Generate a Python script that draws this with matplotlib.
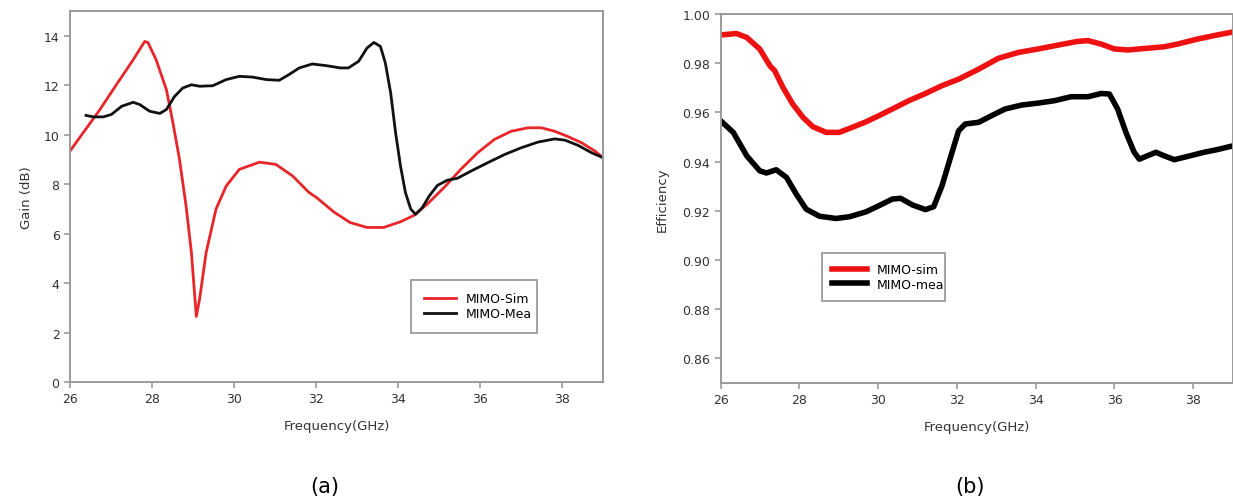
import matplotlib.pyplot as plt
from matplotlib.ticker import FormatStrFormatter

# (a) Gain vs frequency
gain_sim_f = [26.0, 26.32, 26.73, 27.13, 27.54, 27.82, 27.9, 28.1, 28.35, 28.51, 28.67,
              28.83, 28.96, 29.08, 29.16, 29.32, 29.56, 29.81, 30.13, 30.62, 31.02,
              31.43, 31.83, 32.02, 32.43, 32.83, 33.24, 33.65, 34.06, 34.39, 34.71,
              35.12, 35.53, 35.94, 36.35, 36.76, 37.17, 37.49, 37.82, 38.15, 38.48,
              38.8, 39.0]
gain_sim = [9.34, 10.08, 11.02, 12.02, 13.03, 13.77, 13.73, 13.03, 11.82, 10.48, 9.0,
            7.12, 5.24, 2.65, 3.36, 5.24, 6.99, 7.93, 8.6, 8.89, 8.8,
            8.33, 7.66, 7.45, 6.88, 6.45, 6.25, 6.25, 6.48, 6.74, 7.19,
            7.86, 8.6, 9.27, 9.81, 10.14, 10.28, 10.28, 10.14, 9.92, 9.67,
            9.34, 9.07]

gain_mea_f = [26.39, 26.57, 26.81, 27.01, 27.26, 27.54, 27.7, 27.94, 28.19, 28.35,
              28.55, 28.75, 28.96, 29.16, 29.48, 29.81, 30.13, 30.45, 30.78, 31.1,
              31.34, 31.59, 31.91, 32.26, 32.59, 32.79, 33.04, 33.24, 33.41, 33.57,
              33.69, 33.82, 33.94, 34.06, 34.18, 34.31, 34.43, 34.59, 34.76, 34.96,
              35.2, 35.45, 35.78, 36.19, 36.6, 37.0, 37.41, 37.82, 38.07, 38.39,
              38.72, 39.0]
gain_mea = [10.78, 10.72, 10.72, 10.82, 11.15, 11.31, 11.22, 10.95, 10.86, 11.02,
            11.55, 11.89, 12.02, 11.96, 11.98, 12.23, 12.36, 12.33, 12.23, 12.2,
            12.43, 12.7, 12.86, 12.79, 12.7, 12.7, 12.97, 13.5, 13.73, 13.57,
            12.9, 11.69, 10.08, 8.73, 7.66, 6.99, 6.78, 7.05, 7.52, 7.95,
            8.16, 8.24, 8.53, 8.87, 9.2, 9.47, 9.7, 9.83, 9.78, 9.57,
            9.27, 9.07]

# (b) Efficiency vs frequency
eff_sim_f = [26.0, 26.4, 26.66, 26.99, 27.25, 27.37, 27.58, 27.83, 28.09, 28.34,
             28.68, 29.01, 29.35, 29.69, 30.02, 30.36, 30.78, 31.2, 31.62, 32.04,
             32.55, 33.05, 33.56, 34.06, 34.57, 35.07, 35.33, 35.66, 36.0, 36.34,
             36.76, 37.26, 37.6, 38.1, 38.61, 39.0]
eff_sim = [0.9915, 0.9921, 0.9905, 0.9858, 0.979, 0.977, 0.9702, 0.9634, 0.958, 0.9542,
           0.9519, 0.9519, 0.954, 0.9562, 0.9587, 0.9614, 0.9648, 0.9677, 0.9709, 0.9735,
           0.9776, 0.982, 0.9844, 0.9858, 0.9874, 0.9889, 0.9892, 0.9878, 0.9858, 0.9854,
           0.986, 0.9867, 0.9878, 0.9898, 0.9915, 0.9927]

eff_mea_f = [26.0, 26.32, 26.66, 26.99, 27.16, 27.41, 27.67, 27.92, 28.17, 28.51,
             28.93, 29.27, 29.69, 30.02, 30.36, 30.57, 30.87, 31.2, 31.41, 31.62,
             31.85, 32.04, 32.21, 32.55, 32.88, 33.22, 33.64, 34.06, 34.48, 34.9,
             35.33, 35.66, 35.87, 36.08, 36.29, 36.5, 36.63, 36.84, 37.05, 37.26,
             37.52, 37.85, 38.27, 38.61, 39.0]
eff_mea = [0.9566, 0.9519, 0.9424, 0.9363, 0.9354, 0.9367, 0.9336, 0.9268, 0.9207, 0.9178,
           0.9169, 0.9176, 0.9196, 0.9221, 0.9248, 0.9251, 0.9224, 0.9205, 0.9217, 0.9302,
           0.9425, 0.9525, 0.9553, 0.956, 0.9587, 0.9614, 0.963, 0.9638, 0.9648, 0.9664,
           0.9664, 0.9677, 0.9675, 0.9614, 0.9519, 0.9438, 0.941, 0.9424, 0.9438, 0.9424,
           0.9408, 0.9421, 0.9438, 0.9449, 0.9464]

spine_col = '#9a9a9a'
text_col = '#333333'

fig = plt.figure(figsize=(12.33, 5.02), dpi=100)
ax1 = fig.add_axes([0.0568, 0.237, 0.4323, 0.739])
ax2 = fig.add_axes([0.5845, 0.235, 0.4152, 0.735])


def style_axes(ax):
    for side in ['top', 'right', 'bottom', 'left']:
        ax.spines[side].set_color(spine_col)
        ax.spines[side].set_linewidth(1.4)
    ax.tick_params(direction='out', length=4, width=1.2, color=spine_col,
                   labelsize=9, labelcolor=text_col)


ax1.plot(gain_sim_f, gain_sim, color='#e8262a', lw=2.0, label='MIMO-Sim')
ax1.plot(gain_mea_f, gain_mea, color='#111111', lw=2.0, label='MIMO-Mea')
ax1.set_xlim(26, 39)
ax1.set_ylim(0, 15)
ax1.set_xticks(range(26, 40, 2))
ax1.set_yticks(range(0, 15, 2))
ax1.set_xlabel('Frequency(GHz)', fontsize=9.5, color=text_col, labelpad=10)
ax1.set_ylabel('Gain (dB)', fontsize=9.5, color=text_col, labelpad=8)
style_axes(ax1)
leg1 = ax1.legend(loc='lower left', bbox_to_anchor=(0.628, 0.116, 0.259, 0.162),
                  mode='expand', fontsize=9, frameon=True, fancybox=False,
                  handlelength=2.6, borderpad=1.0, labelspacing=0.15)
leg1.get_frame().set_edgecolor('#777777')
leg1.get_frame().set_linewidth(1.2)

ax2.plot(eff_sim_f, eff_sim, color='#ee1111', lw=4.0, label='MIMO-sim')
ax2.plot(eff_mea_f, eff_mea, color='#000000', lw=4.0, label='MIMO-mea')
ax2.set_xlim(26, 39)
ax2.set_ylim(0.85, 1.0)
ax2.set_xticks(range(26, 40, 2))
ax2.set_yticks([0.86, 0.88, 0.90, 0.92, 0.94, 0.96, 0.98, 1.00])
ax2.yaxis.set_major_formatter(FormatStrFormatter('%.2f'))
ax2.set_xlabel('Frequency(GHz)', fontsize=9.5, color=text_col, labelpad=10)
ax2.set_ylabel('Efficiency', fontsize=9.5, color=text_col, labelpad=10)
style_axes(ax2)
leg2 = ax2.legend(loc='lower left', bbox_to_anchor=(0.186, 0.206, 0.264, 0.152),
                  mode='expand', fontsize=9, frameon=True, fancybox=False,
                  handlelength=2.8, borderpad=0.8, labelspacing=0.15)
leg2.get_frame().set_edgecolor('#777777')
leg2.get_frame().set_linewidth(1.2)

fig.text(325 / 1233, 1 - 487 / 502, '(a)', fontsize=15, ha='center', va='center')
fig.text(970 / 1233, 1 - 487 / 502, '(b)', fontsize=15, ha='center', va='center')

fig.savefig('out.png', dpi=100)
